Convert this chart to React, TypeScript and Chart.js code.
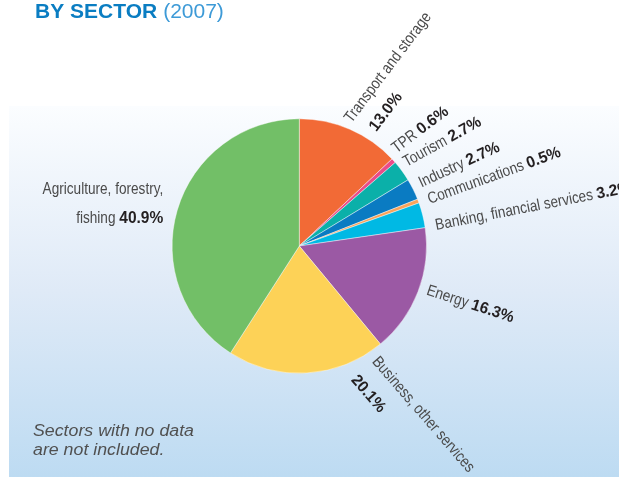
import React, { useEffect, useRef } from "react";
import { Chart, registerables } from "chart.js";

Chart.register(...registerables);

// ---- data ----
const categories = [
  "Transport and storage",
  "TPR",
  "Tourism",
  "Industry",
  "Communications",
  "Banking, financial services",
  "Energy",
  "Business, other services",
  "Agriculture, forestry, fishing",
];
const shares = [13.0, 0.6, 2.7, 2.7, 0.5, 3.2, 16.3, 20.1, 40.9];
const sliceColors = [
  "#f26a36",
  "#ea4c89",
  "#0bb0a9",
  "#0a7bc2",
  "#f8a35a",
  "#00b9e4",
  "#9b59a4",
  "#fdd257",
  "#72bf67",
];
// name lines per label (value is appended to the last name line or placed on its own line)
const labelNameLines = [
  ["Transport and storage"],
  ["TPR"],
  ["Tourism"],
  ["Industry"],
  ["Communications"],
  ["Banking, financial services"],
  ["Energy"],
  ["Business, other services"],
  ["Agriculture, forestry,", "fishing"],
];
const titleBold = "BY SECTOR";
const titleLight = "(2007)";
const noteLines = ["Sectors with no data", "are not included."];

// ---- label layout (geometry only) ----
const labelLayout = [
  { gap: 6, off: -0.3, rot: -53, valueOwnLine: true, dx2: 8, lh: 25, align: "left" },
  { gap: 7, off: -1.5, rot: -37, valueOwnLine: false, dx2: 0, lh: 0, align: "left" },
  { gap: 6, off: -0.2, rot: -29, valueOwnLine: false, dx2: 0, lh: 0, align: "left" },
  { gap: 8.2, off: 0.9, rot: -25, valueOwnLine: false, dx2: 0, lh: 0, align: "left" },
  { gap: 9.8, off: 2.9, rot: -20, valueOwnLine: false, dx2: 0, lh: 0, align: "left" },
  { gap: 10.8, off: 7.4, rot: -11, valueOwnLine: false, dx2: 0, lh: 0, align: "left" },
  { gap: 8.1, off: -0.1, rot: 18, valueOwnLine: false, dx2: 0, lh: 0, align: "left" },
  { gap: 9.4, off: -28.5, rot: 49, valueOwnLine: true, dx2: 0, lh: 28, align: "left" },
  { gap: 18.4, off: 4.5, rot: 0, valueOwnLine: false, dx2: 0, lh: 29, align: "right" },
];

const NAME_FONT = "16px 'Liberation Sans', Arial, sans-serif";
const NAME_SX = 0.85;
const VALUE_FONT = "bold 16px 'Liberation Sans', Arial, sans-serif";
const VALUE_SX = 0.97;
const NAME_COLOR = "#4a4a4a";
const VALUE_COLOR = "#231f20";

function segWidth(ctx: CanvasRenderingContext2D, text: string, font: string, sx: number) {
  ctx.font = font;
  return ctx.measureText(text).width * sx;
}

function drawSeg(
  ctx: CanvasRenderingContext2D,
  text: string,
  font: string,
  sx: number,
  color: string,
  x: number,
  y: number
) {
  ctx.save();
  ctx.translate(x, y);
  ctx.scale(sx, 1);
  ctx.font = font;
  ctx.fillStyle = color;
  ctx.textAlign = "left";
  ctx.textBaseline = "alphabetic";
  ctx.fillText(text, 0, 0);
  ctx.restore();
}

type Seg = { text: string; bold: boolean };

const decorPlugin = {
  id: "decor",
  beforeDraw(chart: any) {
    const ctx: CanvasRenderingContext2D = chart.ctx;
    const W = chart.width;
    const H = chart.height;
    ctx.save();
    ctx.fillStyle = "#ffffff";
    ctx.fillRect(0, 0, W, H);
    const top = 106;
    const g = ctx.createLinearGradient(0, top, 0, H);
    g.addColorStop(0, "#fbfdff");
    g.addColorStop(0.5, "#dfeaf7");
    g.addColorStop(1, "#bddbf2");
    ctx.fillStyle = g;
    ctx.fillRect(9, top, W - 9, H - top);

    // title
    ctx.textBaseline = "alphabetic";
    ctx.textAlign = "left";
    ctx.font = "bold 21px 'Liberation Sans', Arial, sans-serif";
    ctx.fillStyle = "#0a7dc2";
    ctx.fillText(titleBold, 35, 18);
    const tw = ctx.measureText(titleBold).width;
    ctx.font = "21px 'Liberation Sans', Arial, sans-serif";
    ctx.fillStyle = "#3d9ad7";
    ctx.fillText(titleLight, 35 + tw + 6, 18);

    // note
    const noteFont = "italic 16px 'Liberation Sans', Arial, sans-serif";
    ctx.font = noteFont;
    const nw = ctx.measureText(noteLines[0]).width;
    const nsx = 161 / nw;
    noteLines.forEach((line, i) => {
      drawSeg(ctx, line, noteFont, nsx, "#505050", 33, 436 + i * 19);
    });
    ctx.restore();
  },
  afterDatasetsDraw(chart: any) {
    const ctx: CanvasRenderingContext2D = chart.ctx;
    const meta = chart.getDatasetMeta(0);
    ctx.save();
    meta.data.forEach((arc: any, i: number) => {
      const p = arc.getProps(["x", "y", "startAngle", "endAngle", "outerRadius"], true);
      const L = labelLayout[i];
      const mid = (p.startAngle + p.endAngle) / 2 + (L.off * Math.PI) / 180;
      const r = p.outerRadius + L.gap;
      const ax = p.x + Math.cos(mid) * r;
      const ay = p.y + Math.sin(mid) * r;
      const valueText = shares[i].toFixed(1) + "%";
      const names = labelNameLines[i];
      const lines: Seg[][] = [];
      names.forEach((n) => lines.push([{ text: n, bold: false }]));
      if (L.valueOwnLine) {
        lines.push([{ text: valueText, bold: true }]);
      } else {
        lines[lines.length - 1].push({ text: " " + valueText, bold: true });
      }
      ctx.save();
      ctx.translate(ax, ay);
      ctx.rotate((L.rot * Math.PI) / 180);
      const space = segWidth(ctx, " ", NAME_FONT, NAME_SX);
      lines.forEach((segs, li) => {
        const widths = segs.map((s) =>
          s.bold
            ? segWidth(ctx, s.text.trimStart(), VALUE_FONT, VALUE_SX) + (s.text.startsWith(" ") ? space : 0)
            : segWidth(ctx, s.text, NAME_FONT, NAME_SX)
        );
        const total = widths.reduce((a, b) => a + b, 0);
        let x = L.align === "right" ? -total : 0;
        if (li > 0) x += L.dx2;
        const y = li * L.lh;
        segs.forEach((s, si) => {
          if (s.bold) {
            let t = s.text;
            if (t.startsWith(" ")) {
              x += space;
              t = t.trimStart();
            }
            drawSeg(ctx, t, VALUE_FONT, VALUE_SX, VALUE_COLOR, x, y);
            x += segWidth(ctx, t, VALUE_FONT, VALUE_SX);
          } else {
            drawSeg(ctx, s.text, NAME_FONT, NAME_SX, NAME_COLOR, x, y);
            x += widths[si];
          }
        });
      });
      ctx.restore();
    });
    ctx.restore();
  },
};

export default function App() {
  const ref = useRef<HTMLCanvasElement | null>(null);
  useEffect(() => {
    document.body.style.margin = "0";
    const canvas = ref.current!;
    const chart = new Chart(canvas, {
      type: "pie",
      data: {
        labels: categories,
        datasets: [
          {
            data: shares,
            backgroundColor: sliceColors,
            borderColor: "rgba(255,255,255,0.7)",
            borderWidth: 0.6,
          },
        ],
      },
      options: {
        responsive: false,
        animation: false,
        devicePixelRatio: 1,
        layout: { padding: { top: 118.5, bottom: 103.5, left: 171.8, right: 192.2 } },
        plugins: {
          legend: { display: false },
          tooltip: { enabled: false },
          title: { display: false },
        },
      },
      plugins: [decorPlugin],
    } as any);
    return () => chart.destroy();
  }, []);
  return (
    <div style={{ position: "absolute", left: 0, top: 0, width: 619, height: 477 }}>
      <canvas ref={ref} width={619} height={477} style={{ display: "block", width: 619, height: 477 }} />
    </div>
  );
}
